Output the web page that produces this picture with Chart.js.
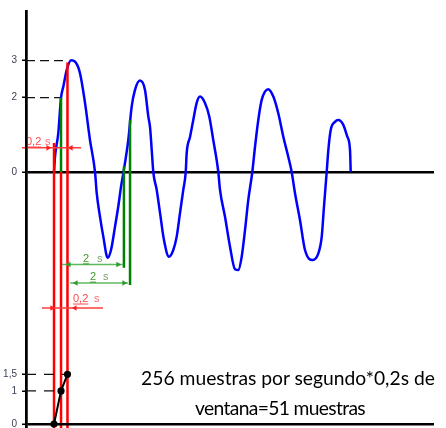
<!DOCTYPE html>
<html><head><meta charset="utf-8">
<script src="https://cdn.jsdelivr.net/npm/chart.js@4/dist/chart.umd.min.js"></script>
<style>
html,body{margin:0;padding:0;background:#fff;}
#wrap{position:relative;width:446px;height:428px;overflow:hidden;background:#fff;}
canvas{position:absolute;left:0;top:0;}
.cap{position:absolute;font-family:Lato,"Open Sans",sans-serif;font-size:18px;line-height:18px;color:#000;white-space:nowrap;transform:translateX(-50%);}
</style></head><body>
<div id="wrap">
<canvas id="topChart" width="446" height="428"></canvas>
<canvas id="botChart" width="446" height="428"></canvas>
<div class="cap" id="cap1" style="left:288px;top:369px;">256 muestras por segundo*0,2s de</div>
<div class="cap" id="cap2" style="left:280px;top:399px;">ventana=51 muestras</div>
</div>
<script>
// ---------- data (time in s, amplitude) ----------
const waveT = [0.412,0.426,0.475,0.515,0.549,0.599,0.662,0.721,0.794,0.868,0.941,1.015,1.040,1.088,1.137,1.201,1.250,1.309,1.357,1.397,1.434,1.504,1.554,1.603,1.676,1.750,1.799,1.824,1.849,1.872,1.922,1.971,2.029,2.103,2.166,2.216,2.265,2.313,2.349,2.363,2.412,2.460,2.510,2.559,2.632,2.696,2.754,2.804,2.828,2.853,2.926,3.000,3.074,3.122,3.172,3.221,3.269,3.328,3.368,3.416,3.466,3.563,3.637,3.710,3.784,3.857,3.907,3.956,4.029,4.103,4.216,4.299,4.349,4.382,4.422,4.446,4.481,4.544,4.593,4.666,4.725,4.765,4.775];
const waveV = [0,0.40,1.05,2.00,2.30,2.75,3.01,2.97,2.66,1.86,0.86,0,-0.57,-1.20,-1.74,-2.31,-2.10,-1.47,-0.93,-0.40,0,0.86,1.76,2.21,2.46,2.21,1.49,1.21,0.59,0,-0.48,-1.10,-1.83,-2.28,-2.10,-1.74,-1.10,-0.48,0,0.51,0.94,1.40,1.86,2.03,1.86,1.49,0.86,0.32,0,-0.48,-1.20,-2.01,-2.62,-2.64,-2.28,-1.56,-0.75,0,0.68,1.40,1.94,2.23,2.03,1.58,0.95,0.41,0,-0.57,-1.29,-2.10,-2.37,-2.19,-1.74,-0.93,0,0.59,1.13,1.35,1.40,1.27,0.95,0.59,0];

// top panel ticks
const topTicks = [0, 2, 3];
const topTickLabels = ['0', '2', '3'];
// bottom panel ticks
const botTicks = [0, 1, 1.5];
const botTickLabels = ['0', '1', '1,5'];

// window marks (red verticals): time and top amplitude
const redLineT = [0.412, 0.515, 0.61];
const redLineTop = [0.78, 0, 2.95];
// green verticals: time, top, bottom
const greenLineT = [0.515, 1.44, 1.53];
const greenLineTop = [2.0, 0.15, 1.40];
const greenLineBot = [0, -2.58, -3.04];
// dashed reference levels (top panel)
const refLevels = [3, 2];
const refLevelEndT = [0.61, 0.515];

// dimension lines: level, start, end
const redDimV = [0.65, -3.66];
const redDimStart = [-0.06, 0.235];
const redDimEnd = [0.81, 1.132];
const redArrowT = [[0.324, 0.662], [0.382, 0.72]];
const greenDimV = [-2.49, -2.99];
const greenDimStart = [0.53, 0.647];
const greenDimEnd = [1.43, 1.50];
const greenArrowT = [[0.632, 1.353], [0.735, 1.441]];

// dimension labels
const dimLabelNum = ['0,2', '0,2', '2', '2'];
const dimLabelUnit = ['s', 's', 's', 's'];
const dimLabelT = [0.0, 0.691, 0.838, 0.941];
const dimUnitT = [0.279, 1.0, 1.044, 1.132];
const dimLabelV = [0.727, -3.50, -2.42, -2.91];
const dimLabelColor = ['#ff4a4a', '#ff4a4a', '#3f9a2a', '#3f9a2a'];
const dimUnitColor = ['#ff6a6a', '#ff6a6a', '#7aa070', '#7aa070'];

// bottom panel: samples
const sampT = [0.412, 0.515, 0.61];
const sampV = [0, 1, 1.5];
const botLevels = [1, 1.5];
const botLevelEndT = [0.47, 0.61];

// ---------- scale ranges ----------
const X_MIN = 0, X_MAX = 6;
const TOP_MIN = -6.891, TOP_MAX = 4.334;
const BOT_MIN = -0.0906, BOT_MAX = 12.477;

function seg(x1, y1, x2, y2, color, width, dash) {
  return {data: [{x: x1, y: y1}, {x: x2, y: y2}], borderColor: color, borderWidth: width,
    borderDash: dash || [], pointRadius: 0, pointHoverRadius: 0, fill: false, tension: 0, clip: false};
}
function arrows(ts, v, color, rot) {
  return {data: ts.map(t => ({x: t, y: v})), showLine: false, pointStyle: 'triangle',
    pointRadius: 3.2, pointRotation: rot, pointBackgroundColor: color, pointBorderColor: color,
    pointBorderWidth: 0, clip: false};
}

const topDatasets = [];
redDimV.forEach((v, i) => {
  topDatasets.push(arrows(redArrowT[i], v, '#ff2020', [90, -90]));
  topDatasets.push(seg(redDimStart[i], v, redDimEnd[i], v, '#ff3b3b', 1.5));
});
greenDimV.forEach((v, i) => {
  topDatasets.push(arrows(greenArrowT[i], v, '#2e9a2e', [-90, 90]));
  topDatasets.push(seg(greenDimStart[i], v, greenDimEnd[i], v, '#5cb85c', 1.5));
});
greenLineT.forEach((t, i) => topDatasets.push(seg(t, greenLineTop[i], t, greenLineBot[i], '#008000', 2.5)));
redLineT.forEach((t, i) => topDatasets.push(seg(t, redLineTop[i], t, TOP_MIN, '#ff0000', 2.5)));
topDatasets.push({data: waveT.map((t, i) => ({x: t, y: waveV[i]})), borderColor: '#0000ff', borderWidth: 2.5,
  pointRadius: 0, cubicInterpolationMode: 'monotone', fill: false});
refLevels.forEach((v, i) => topDatasets.push(seg(X_MIN, v, refLevelEndT[i], v, '#111', 1.3, [9, 5])));

const labelPlugin = {
  id: 'dimLabels',
  afterDatasetsDraw(chart) {
    const {ctx, scales: {x, y}} = chart;
    ctx.save();
    ctx.font = '11px "Liberation Sans", Arial, sans-serif';
    ctx.textBaseline = 'alphabetic';
    ctx.textAlign = 'left';
    dimLabelNum.forEach((txt, i) => {
      const px = x.getPixelForValue(dimLabelT[i]);
      const py = y.getPixelForValue(dimLabelV[i]);
      ctx.fillStyle = dimLabelColor[i];
      ctx.fillText(txt, px, py);
      const w = ctx.measureText(txt).width;
      ctx.fillRect(px, py + 1.5, w, 1);
      ctx.fillStyle = dimUnitColor[i];
      ctx.fillText(dimLabelUnit[i], x.getPixelForValue(dimUnitT[i]), py);
    });
    ctx.restore();
  }
};

function yAxis(min, max, ticks, labels) {
  return {
    type: 'linear', min: min, max: max,
    afterBuildTicks: s => { s.ticks = ticks.map(v => ({value: v})); },
    afterFit: s => { s.width = 26; s.paddingTop = 0; s.paddingBottom = 0; },
    ticks: {callback: (v, idx) => labels[idx], color: '#3a3f55', padding: 5,
      font: {family: '"Liberation Sans", Arial, sans-serif', size: 10}},
    grid: {color: c => (c.tick && c.tick.value === 0) ? '#000' : 'rgba(0,0,0,0)', lineWidth: 2.5,
      drawTicks: true, tickLength: 4, tickColor: '#000', tickWidth: 1.5},
    border: {display: true, color: '#000', width: 2.5}
  };
}

const baseOpts = (yScale, pad) => ({
  responsive: false, animation: false,
  layout: {padding: pad, autoPadding: false},
  plugins: {legend: {display: false}, tooltip: {enabled: false}, title: {display: false}},
  scales: {x: {type: 'linear', min: X_MIN, max: X_MAX, display: false}, y: yScale}
});

new Chart(document.getElementById('topChart'), {
  type: 'line', data: {datasets: topDatasets},
  options: baseOpts(yAxis(TOP_MIN, TOP_MAX, topTicks, topTickLabels), {left: 0, top: 11, right: 12, bottom: 0}),
  plugins: [labelPlugin]
});

const botDatasets = [];
botDatasets.push({data: sampT.map((t, i) => ({x: t, y: sampV[i]})), borderColor: '#000', borderWidth: 2,
  pointRadius: 2.6, pointBackgroundColor: '#000', pointBorderColor: '#000', tension: 0, clip: false});
botLevels.forEach((v, i) => botDatasets.push(seg(X_MIN, v, botLevelEndT[i], v, '#111', 1.3, [10, 8])));

new Chart(document.getElementById('botChart'), {
  type: 'line', data: {datasets: botDatasets},
  options: baseOpts(yAxis(BOT_MIN, BOT_MAX, botTicks, botTickLabels), {left: 0, top: 11, right: 12, bottom: 1})
});

// caption: fit first line to the reference width, same size for both lines,
// then tighten the second line's spacing to its reference width
const c1 = document.getElementById('cap1'), c2 = document.getElementById('cap2');
const w1 = c1.getBoundingClientRect().width;
if (w1 > 0) {
  const fs = (18 * 294 / w1).toFixed(2) + 'px';
  c1.style.fontSize = fs; c2.style.fontSize = fs;
  const w2 = c2.getBoundingClientRect().width;
  const n = c2.textContent.length;
  c2.style.letterSpacing = ((170 - w2) / n).toFixed(2) + 'px';
}
</script>
</body></html>
